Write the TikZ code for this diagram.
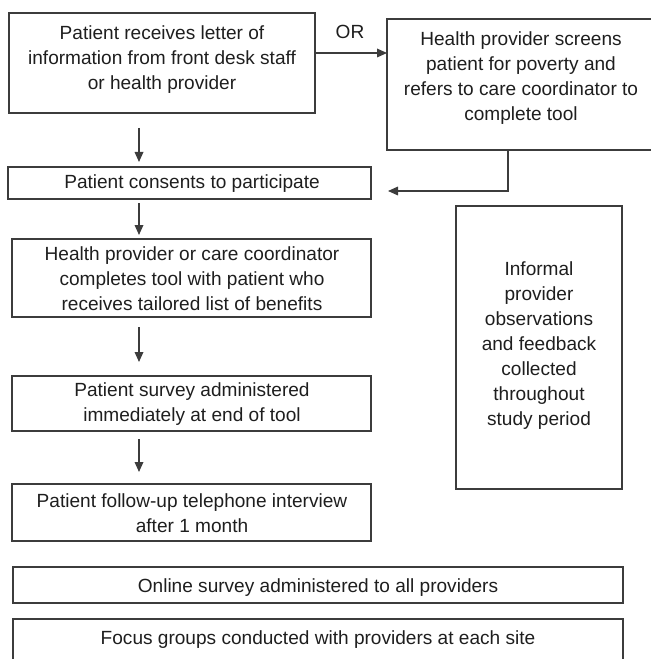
\documentclass[tikz,border=0pt]{standalone}
\usepackage{fontspec}
\setmainfont{Liberation Sans}
\usetikzlibrary{arrows.meta,calc,fit}
\definecolor{ln}{HTML}{3C3C3C}
\definecolor{tx}{HTML}{1E1E1E}
\begin{document}
\begin{tikzpicture}[x=0.75pt,y=-0.75pt,
  box/.style={draw=ln,line width=0.9pt,rectangle,inner sep=0pt,outer sep=0pt},
  txt/.style={text=tx,font=\fontsize{14.3}{18.75}\selectfont,align=center,inner sep=0pt,yshift=-2pt},
  arr/.style={draw=ln,line width=0.9pt,-{Triangle[length=7.5pt,width=6.5pt]}}]
\useasboundingbox (0,0) rectangle (650,659);
% boxes
\node[box,fit={(9,13) (315,113)}] (a) {};
\node[box,fit={(387,19) (655,150)}] (b) {};
\node[box,fit={(8,167) (371,199)}] (c) {};
\node[box,fit={(12,239) (371,317)}] (d) {};
\node[box,fit={(12,376) (371,431)}] (e) {};
\node[box,fit={(12,484) (371,541)}] (f) {};
\node[box,fit={(13,567) (623,603)}] (g) {};
\node[box,fit={(13,619) (623,668)}] (h) {};
\node[box,fit={(456,206) (622,489)}] (r) {};
% texts
\node[txt] (ta) at (162,57) {Patient receives letter of\\information from front desk staff\\or health provider};
\node[txt] (tb) at (521,75) {Health provider screens\\patient for poverty and\\refers to care coordinator to\\complete tool};
\node[txt] (tc) at (192,181) {Patient consents to participate};
\node[txt] (td) at (192,276) {Health provider or care coordinator\\completes tool with patient who\\receives tailored list of benefits};
\node[txt] (te) at (192,401.5) {Patient survey administered\\immediately at end of tool};
\node[txt] (tf) at (192,510.5) {Patient follow-up telephone interview\\after 1 month};
\node[txt] (tg) at (318,585) {Online survey administered to all providers};
\node[txt] (th) at (318,637) {Focus groups conducted with providers at each site};
\node[txt] (tr) at (539,342.5) {Informal\\provider\\observations\\and feedback\\collected\\throughout\\study period};
\node[txt] (or) at (350,29) {OR};
% connectors
\draw[arr] ($(a.north east)+(0,40)$) -- ($(b.north west)+(0,34)$);
\draw[arr] ($(a.south west)+(130,15)$) -- ++(0,34);
\draw[arr] ($(b.south west)+(121,0)$) |- ($(c.north east)+(17,24)$);
\draw[arr] ($(c.south west)+(131,4)$) -- ++(0,32);
\draw[arr] ($(d.south west)+(127,10)$) -- ++(0,35);
\draw[arr] ($(e.south west)+(127,8)$) -- ++(0,33);
\end{tikzpicture}
\end{document}
